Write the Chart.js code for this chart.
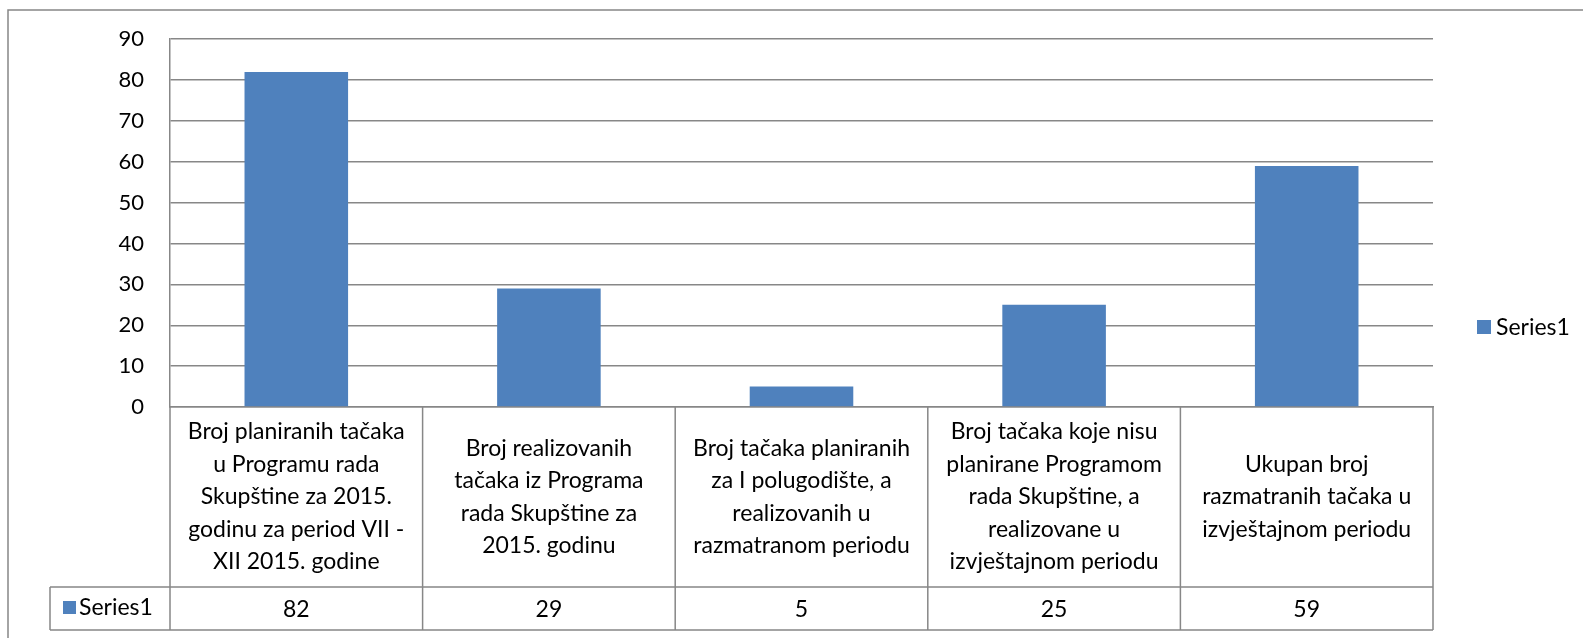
<!DOCTYPE html>
<html>
<head>
  <meta charset="UTF-8">
  <style>
    body { margin: 0; background: #fff; }
  </style>
</head>
<body>
  <canvas id="chart" width="1583" height="638"></canvas>

  <script src="https://cdn.jsdelivr.net/npm/chart.js@4.4.0/dist/chart.umd.min.js"></script>
  <script>
    const categories = [
      ["Broj planiranih tačaka", "u Programu rada", "Skupštine za 2015.", "godinu za period VII -", "XII 2015. godine"],
      ["Broj realizovanih", "tačaka iz Programa", "rada Skupštine za", "2015. godinu"],
      ["Broj tačaka planiranih", "za I polugodište, a", "realizovanih u", "razmatranom periodu"],
      ["Broj tačaka koje nisu", "planirane Programom", "rada Skupštine, a", "realizovane u", "izvještajnom periodu"],
      ["Ukupan broj", "razmatranih tačaka u", "izvještajnom periodu"]
    ]
    const seriesName = "Series1"
    const values = [82, 29, 5, 25, 59]

    const FONT = "Lato, 'Liberation Sans', sans-serif"
    const GRID = "#878787"
    const BAR = "#4f81bd"

    // draws frame, data table, category labels and legend by hand
    const tablePlugin = {
      id: "table",
      afterDraw(chart) {
        const ctx = chart.ctx
        const area = chart.chartArea
        const x = chart.scales.x
        const rowTop = 587, rowBottom = 630, headLeft = 50
        const n = categories.length
        const step = (area.right - area.left) / n

        ctx.save()
        ctx.strokeStyle = GRID
        ctx.lineWidth = 1.5

        // outer frame
        ctx.beginPath()
        ctx.moveTo(8, 638)
        ctx.lineTo(8, 10)
        ctx.lineTo(1583, 10)
        ctx.stroke()

        // table lines
        ctx.beginPath()
        for (let i = 0; i <= n; i++) {
          const lx = area.left + step * i
          ctx.moveTo(lx, area.bottom)
          ctx.lineTo(lx, rowBottom)
        }
        ctx.moveTo(headLeft, rowTop)
        ctx.lineTo(area.right, rowTop)
        ctx.moveTo(headLeft, rowBottom)
        ctx.lineTo(area.right, rowBottom)
        ctx.moveTo(headLeft, rowTop)
        ctx.lineTo(headLeft, rowBottom)
        ctx.stroke()

        ctx.fillStyle = "#000"
        ctx.font = "23px " + FONT
        ctx.textAlign = "center"
        ctx.textBaseline = "middle"
        const lineH = 32.5
        const midY = (area.bottom + rowTop) / 2
        categories.forEach((lines, i) => {
          const cx = x.getPixelForValue(i)
          const y0 = midY - (lines.length - 1) * lineH / 2
          lines.forEach((t, j) => ctx.fillText(t, cx, y0 + j * lineH))
          ctx.fillText(String(values[i]), cx, (rowTop + rowBottom) / 2 + 1)
        })

        // row header
        ctx.fillStyle = BAR
        ctx.fillRect(63, 601, 13, 13)
        ctx.fillStyle = "#000"
        ctx.textAlign = "left"
        ctx.fillText(seriesName, 79, 608)

        // legend
        ctx.fillStyle = BAR
        ctx.fillRect(1477, 320, 14, 14)
        ctx.fillStyle = "#000"
        ctx.fillText(seriesName, 1496, 328)
        ctx.restore()
      }
    }

    new Chart(document.getElementById("chart"), {
      type: "bar",
      data: {
        labels: categories.map(c => c.join(" ")),
        datasets: [{
          label: seriesName,
          data: values,
          backgroundColor: BAR,
          categoryPercentage: 1,
          barPercentage: 0.41
        }]
      },
      options: {
        responsive: false,
        animation: false,
        layout: { padding: { left: 8, top: 39, right: 150, bottom: 0 } },
        plugins: { legend: { display: false }, tooltip: { enabled: false } },
        scales: {
          x: {
            ticks: { display: false },
            grid: { display: false },
            border: { color: GRID, width: 1.5 },
            afterFit: s => { s.height = 231 }
          },
          y: {
            min: 0,
            max: 90,
            ticks: { stepSize: 10, color: "#000", font: { size: 22, family: FONT }, padding: 26 },
            grid: { color: GRID, lineWidth: 1.5, drawTicks: false },
            border: { color: GRID, width: 1.5 },
            afterFit: s => { s.width = 162 }
          }
        }
      },
      plugins: [tablePlugin]
    })
  </script>
</body>
</html>
